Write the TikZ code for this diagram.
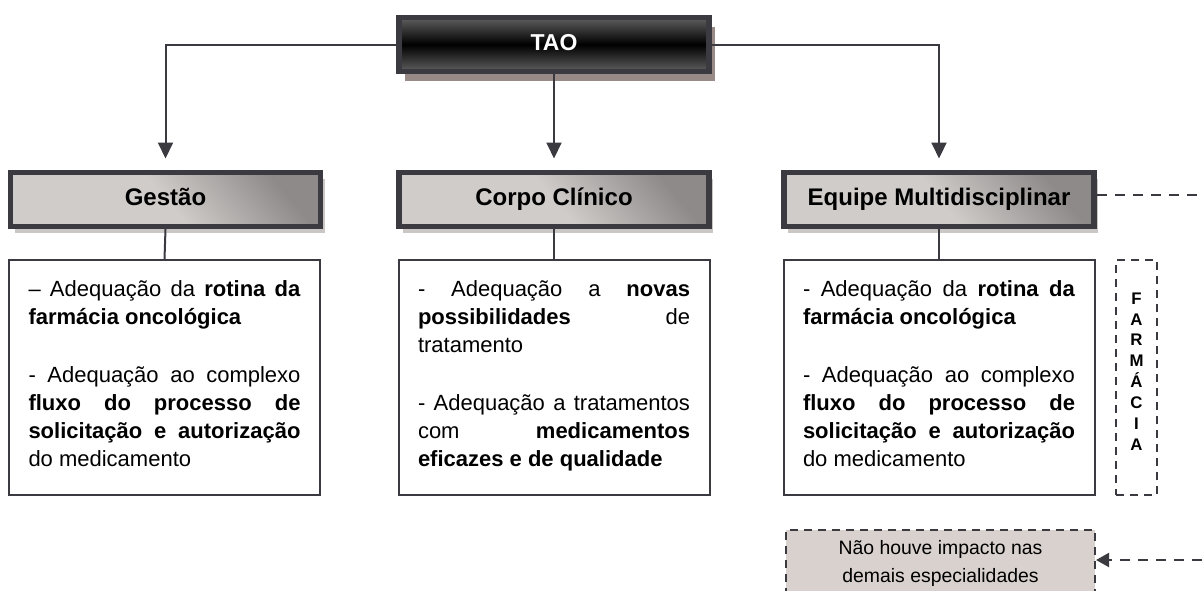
\documentclass[tikz,border=0pt]{standalone}
\usepackage{fontspec}
\setmainfont{Liberation Sans}
\usetikzlibrary{arrows.meta,shadows}

\definecolor{linegray}{HTML}{3A3A40}
\definecolor{hdrlight}{HTML}{D0CCCA}
\definecolor{hdrdark}{HTML}{8E8A89}
\definecolor{hdrshadow}{HTML}{CBC7C5}
\definecolor{taogray}{HTML}{5F5F5F}
\definecolor{taoshadow}{HTML}{988B87}
\definecolor{notefill}{HTML}{D8D1CD}

\newcommand{\cellbody}[1]{\parbox[t][96.5pt][t]{136pt}{\fontsize{11}{14}\selectfont
    \hyphenpenalty=10000 \hbadness=10000 #1}}

\begin{document}
\begin{tikzpicture}[
        x=0.5pt, y=-0.5pt,
        every node/.style={inner sep=0pt},
        link/.style={draw=linegray, line width=1pt},
        arr/.style={link, -{Triangle[length=8pt,width=7.5pt]}, shorten >=5.5pt},
        dashlink/.style={link, dash pattern=on 5pt off 4pt},
        taobox/.style={draw=linegray, line width=2.8pt, minimum width=155pt, minimum height=27pt,
            top color=taogray, bottom color=taogray, middle color=black,
            text=white, font=\bfseries\fontsize{11.5}{14}\selectfont,
            text height=8.5pt, text depth=2.5pt,
            drop shadow={shadow xshift=2.75pt, shadow yshift=-4.5pt, fill=taoshadow, opacity=1}},
        hdr/.style={draw=linegray, line width=2.8pt, minimum width=155pt, minimum height=27pt,
            top color=hdrdark, bottom color=hdrlight, middle color=hdrlight, shading angle=-50,
            font=\bfseries\fontsize{12}{14}\selectfont,
            text height=8.8pt, text depth=2.5pt,
            drop shadow={shadow xshift=2pt, shadow yshift=-3.5pt, fill=hdrshadow, opacity=1}},
        txtbox/.style={draw=linegray, line width=1pt, fill=white, inner xsep=9.75pt, inner ysep=10.5pt},
        dashbox/.style={draw=linegray, line width=1pt, dash pattern=on 4pt off 3pt}
    ]
    \useasboundingbox (0,0) rectangle (1202,590);
    \fill[white] (0,0) rectangle (1202,590);
    \clip (0,0) rectangle (1202,590);

    \node[taobox] (tao) at (554,44.5) {TAO};
    \node[hdr] (gestao) at (165.5,199.3) {Gestão};
    \node[hdr] (corpo) at (554,199.3) {Corpo Clínico};
    \node[hdr] (equipe) at (939,199.3) {Equipe Multidisciplinar};

    \node[txtbox] (gtxt) at (164.5,377.5) {\cellbody{– Adequação da \textbf{rotina da}\linebreak
        \textbf{farmácia oncológica}\par\vspace{15pt}
        - Adequação ao complexo\linebreak
        \textbf{fluxo do processo de}\linebreak
        \textbf{solicitação e autorização}\linebreak
        do medicamento}};
    \node[txtbox] (ctxt) at (554,377.5) {\cellbody{- Adequação a \textbf{novas}\linebreak
        \textbf{possibilidades} de\linebreak
        tratamento\par\vspace{15pt}
        - Adequação a tratamentos\linebreak
        com \textbf{medicamentos}\linebreak
        \textbf{eficazes e de qualidade}}};
    \node[txtbox] (etxt) at (939,377.5) {\cellbody{- Adequação da \textbf{rotina da}\linebreak
        \textbf{farmácia oncológica}\par\vspace{15pt}
        - Adequação ao complexo\linebreak
        \textbf{fluxo do processo de}\linebreak
        \textbf{solicitação e autorização}\linebreak
        do medicamento}};

    \node[dashbox, minimum width=20.5pt, minimum height=117.5pt, align=center, text depth=6pt,
        font=\bfseries\fontsize{8.4}{10.45}\selectfont] (farm) at (1136.5,377.5)
        {F\\A\\R\\M\\Á\\C\\I\\A};
    \node[dashbox, fill=notefill, minimum width=154.5pt, minimum height=33pt, align=center,
        font=\fontsize{9.7}{14}\selectfont] (note) at (940.5,563)
        {Não houve impacto nas\\demais especialidades};

    \coordinate (farout) at (1202,195);
    \coordinate (farin) at (1202,560);

    % TAO down to the three areas
    \draw[arr] (tao.west) -| (gestao.north);
    \draw[arr] (tao.south) -- (corpo.north);
    \draw[arr] (tao.east) -| (equipe.north);
    % areas to their texts
    \foreach \area/\body in {gestao/gtxt, corpo/ctxt, equipe/etxt}
        \draw[link] (\area.south) -- (\body.north);
    % pharmacy side
    \draw[dashlink] ([yshift=2.15pt]equipe.east) -- (farout);
    \draw[dashlink, -{Triangle[length=6.5pt,width=7pt]}] (farin) -- ([yshift=1.5pt]note.east);
\end{tikzpicture}
\end{document}
